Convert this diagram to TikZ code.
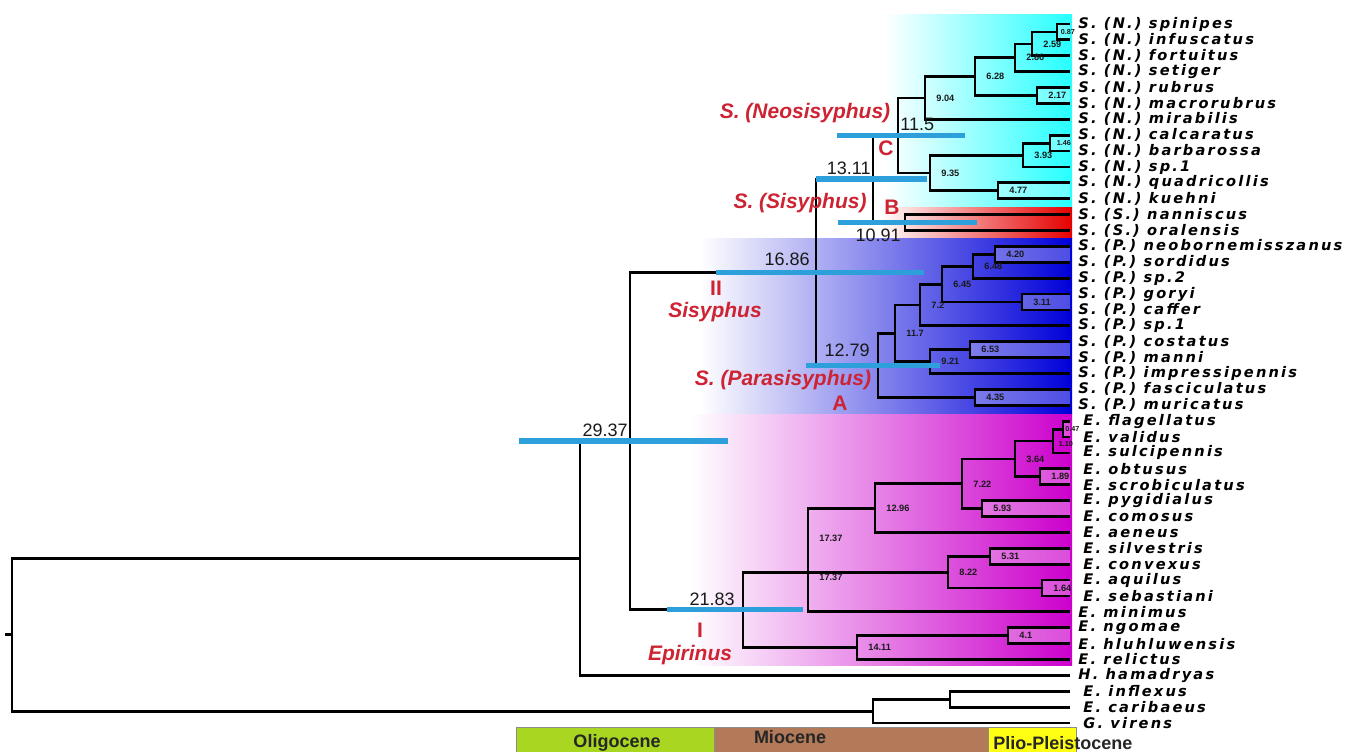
\documentclass[tikz,border=0pt]{standalone}
\usepackage{fontspec}
\setmainfont{Liberation Sans}
\newfontfamily\taxfont{DejaVu Sans}[LetterSpace=15]
\usetikzlibrary{positioning}
\definecolor{hpdblue}{RGB}{45,160,220}
\definecolor{cladered}{RGB}{205,35,50}
\definecolor{oligogreen}{RGB}{168,214,33}
\definecolor{miobrown}{RGB}{178,122,89}
\definecolor{plioyellow}{RGB}{255,255,20}
\begin{document}
\begin{tikzpicture}[x=0.5pt, y=-0.5pt,
    branch/.style={line width=1.4pt, black},
    hpd/.style={line width=2.6pt, hpdblue},
    cherry/.style={fill=white, opacity=0.3},
    taxon/.style={anchor=west, inner sep=0pt, font=\taxfont\bfseries\itshape\fontsize{7.3}{8}\selectfont},
    age/.style={right=5pt, inner sep=0.5pt, font=\bfseries\fontsize{4.6}{5}\selectfont, black!90},
    tinyage/.style={right=1.5pt, inner sep=0.2pt, font=\bfseries\fontsize{3.6}{4}\selectfont, black!90},
    bigage/.style={inner sep=1pt, font=\fontsize{9}{10}\selectfont, black!90},
    clade/.style={text=cladered, font=\bfseries\itshape\fontsize{10.5}{12}\selectfont},
    cladeid/.style={text=cladered, font=\bfseries\fontsize{10.5}{12}\selectfont},
    epoch/.style={draw=black!45, line width=0.4pt},
    epochtext/.style={font=\bfseries\fontsize{9}{10}\selectfont, black!85}]
	\useasboundingbox (0,0) rectangle (1363,751);
	
	% clade colour fields
	\fill[left color=white, middle color=cyan!45!white, right color=cyan!85!white] (885,14) rectangle (1072,207);
	\fill[left color=white, middle color=red!40!white, right color=red!90!black] (880,207) rectangle (1072,238);
	\fill[left color=white, middle color=blue!16!white, right color=blue!85!black] (700,238) rectangle (1072,414);
	\fill[left color=white, middle color=magenta!55!white, right color=magenta!80!black] (690,414) rectangle (1072,665);
	
	% tips and taxon names
	\foreach \nm [count=\i from 0] in {S. (N.) spinipes, S. (N.) infuscatus, S. (N.) fortuitus, S. (N.) setiger,
	    S. (N.) rubrus, S. (N.) macrorubrus, S. (N.) mirabilis, S. (N.) calcaratus, S. (N.) barbarossa,
	    S. (N.) sp.1, S. (N.) quadricollis, S. (N.) kuehni, S. (S.) nanniscus, S. (S.) oralensis,
	    S. (P.) neobornemisszanus, S. (P.) sordidus, S. (P.) sp.2, S. (P.) goryi, S. (P.) caffer,
	    S. (P.) sp.1, S. (P.) costatus, S. (P.) manni, S. (P.) impressipennis, S. (P.) fasciculatus,
	    S. (P.) muricatus, E. flagellatus, E. validus, E. sulcipennis, E. obtusus, E. scrobiculatus,
	    E. pygidialus, E. comosus, E. aeneus, E. silvestris, E. convexus, E. aquilus, E. sebastiani,
	    E. minimus, E. ngomae, E. hluhluwensis, E. relictus, H. hamadryas, E. inflexus, E. caribaeus,
	    G. virens}{
		\pgfmathsetmacro\lx{((\i>24 && \i<37) || \i>41) ? 1083 : 1078}
		\coordinate (tip\i) at (1070,{24+15.886*\i});
		\node[taxon] (lab\i) at (\lx,{24+15.886*\i}) {\nm};
	}
	
	% internal nodes: Neosisyphus
	\coordinate (nSpInf) at (1057,32.0);
	\coordinate (nFort) at (1032,43.9);
	\coordinate (nSet) at (1015,57.8);
	\coordinate (nRub) at (1037,95.5);
	\coordinate (n628) at (975,76.6);
	\coordinate (n904) at (925,98.0);
	\coordinate (nCalc) at (1050,143.1);
	\coordinate (nSp1) at (1023,155.1);
	\coordinate (nQuad) at (998,190.8);
	\coordinate (n935) at (930,172.9);
	\coordinate (n115) at (898,135.4);
	\coordinate (n1091) at (905,222.6);
	\coordinate (n1311) at (873,179.0);
	% Parasisyphus
	\coordinate (n420) at (995,254.3);
	\coordinate (n648) at (973,266.3);
	\coordinate (nGor) at (1022,302.0);
	\coordinate (n645) at (942,284.2);
	\coordinate (n12) at (920,305.0);
	\coordinate (n653) at (970,349.6);
	\coordinate (n921) at (930,361.6);
	\coordinate (n117) at (895,333.3);
	\coordinate (n435) at (975,397.3);
	\coordinate (n1279) at (878,365.3);
	\coordinate (n1686) at (816,272.2);
	% Epirinus
	\coordinate (nFlag) at (1063,429.1);
	\coordinate (nSulc) at (1053,441.0);
	\coordinate (n189) at (1040,476.8);
	\coordinate (n364) at (1015,458.9);
	\coordinate (n593) at (982,508.6);
	\coordinate (n722) at (962,483.8);
	\coordinate (n1296) at (875,508.1);
	\coordinate (n531) at (990,556.2);
	\coordinate (n164) at (1042,588.0);
	\coordinate (n822) at (948,572.1);
	\coordinate (n1737) at (808,572.1);
	\coordinate (n41) at (1008,635.6);
	\coordinate (n1411) at (857,647.5);
	\coordinate (n2183) at (743,609.8);
	% deep nodes
	\coordinate (n2937) at (630,441.0);
	\coordinate (nHam) at (580,558.2);
	\coordinate (nInfl) at (950,699.2);
	\coordinate (nOut) at (873,711.1);
	\coordinate (nRoot) at (12,634.6);
	\coordinate (stem) at (5,634.6);
	
	% lighter cherry boxes
	\foreach \p/\a/\b in {nSpInf/tip0/tip1, nRub/tip4/tip5, nCalc/tip7/tip8, nQuad/tip10/tip11,
	    n420/tip14/tip15, nGor/tip17/tip18, n653/tip20/tip21, n435/tip23/tip24, nFlag/tip25/tip26,
	    n189/tip28/tip29, n593/tip30/tip31, n531/tip33/tip34, n164/tip35/tip36, n41/tip38/tip39}
		\fill[cherry] (\p |- \a) rectangle (\b);
	
	% branches
	\foreach \p/\c in {nSpInf/tip0, nSpInf/tip1, nFort/nSpInf, nFort/tip2, nSet/nFort, nSet/tip3,
	    nRub/tip4, nRub/tip5, n628/nSet, n628/nRub, n904/n628, n904/tip6, nCalc/tip7, nCalc/tip8,
	    nSp1/nCalc, nSp1/tip9, nQuad/tip10, nQuad/tip11, n935/nSp1, n935/nQuad, n115/n904, n115/n935,
	    n1091/tip12, n1091/tip13, n1311/n115, n1311/n1091}
		\draw[branch] (\p) |- (\c);
	\foreach \p/\c in {n420/tip14, n420/tip15, n648/n420, n648/tip16, nGor/tip17, nGor/tip18,
	    n645/n648, n645/nGor, n12/n645, n12/tip19, n653/tip20, n653/tip21, n921/n653, n921/tip22,
	    n117/n12, n117/n921, n435/tip23, n435/tip24, n1279/n117, n1279/n435, n1686/n1311, n1686/n1279}
		\draw[branch] (\p) |- (\c);
	\foreach \p/\c in {nFlag/tip25, nFlag/tip26, nSulc/nFlag, nSulc/tip27, n189/tip28, n189/tip29,
	    n364/nSulc, n364/n189, n593/tip30, n593/tip31, n722/n364, n722/n593, n1296/n722, n1296/tip32,
	    n531/tip33, n531/tip34, n164/tip35, n164/tip36, n822/n531, n822/n164, n1737/n1296, n1737/n822,
	    n1737/tip37, n41/tip38, n41/tip39, n1411/n41, n1411/tip40, n2183/n1737, n2183/n1411}
		\draw[branch] (\p) |- (\c);
	\foreach \p/\c in {n2937/n1686, n2937/n2183, nHam/n2937, nHam/tip41, nInfl/tip42, nInfl/tip43,
	    nOut/nInfl, nOut/tip44, nRoot/nHam, nRoot/nOut}
		\draw[branch] (\p) |- (\c);
	\draw[branch] (stem) -- (nRoot);
	
	% node ages
	\node[tinyage] (aSpInf) at (nSpInf) {0.87};
	\node[age] (aFort) at (nFort) {2.59};
	\node[age] (aSet) at (nSet) {2.86};
	\node[age] (aRub) at (nRub) {2.17};
	\node[age] (a628) at (n628) {6.28};
	\node[age] (a904) at (n904) {9.04};
	\node[tinyage, right=3pt] (aCalc) at (nCalc) {1.46};
	\node[age] (aSp1) at (nSp1) {3.93};
	\node[age] (a935) at (n935) {9.35};
	\node[age] (aQuad) at (nQuad) {4.77};
	\node[age] (a420) at (n420) {4.20};
	\node[age] (a648) at (n648) {6.48};
	\node[age] (aGor) at (nGor) {3.11};
	\node[age] (a645) at (n645) {6.45};
	\node[age] (a12) at (n12) {7.2};
	\node[age] (a117) at (n117) {11.7};
	\node[age] (a653) at (n653) {6.53};
	\node[age] (a921) at (n921) {9.21};
	\node[age] (a435) at (n435) {4.35};
	\node[tinyage, right=0.8pt] (aFlag) at (nFlag) {0.47};
	\node[tinyage, right=2.5pt, yshift=-1.5pt] (aSulc) at (nSulc) {1.10};
	\node[age] (a364) at (n364) {3.64};
	\node[age] (a189) at (n189) {1.89};
	\node[age] (a722) at (n722) {7.22};
	\node[age] (a1296) at (n1296) {12.96};
	\node[age] (a593) at (n593) {5.93};
	\node[age, yshift=17pt] (a1737) at (n1737) {17.37};
	\node[age, yshift=-2.5pt] (a1737b) at (n1737) {17.37};
	\node[age] (a531) at (n531) {5.31};
	\node[age] (a822) at (n822) {8.22};
	\node[age] (a164) at (n164) {1.64};
	\node[age] (a41) at (n41) {4.1};
	\node[age] (a1411) at (n1411) {14.11};
	
	% 95% HPD bars
	\draw[hpd] (n2937 -| 519,0) -- (n2937 -| 728,0);
	\draw[hpd] (n1686 -| 716,0) -- (n1686 -| 924,0);
	\draw[hpd] (n1311 -| 816,0) -- (n1311 -| 927,0);
	\draw[hpd] (n115 -| 837,0) -- (n115 -| 965,0);
	\draw[hpd] (n1091 -| 838,0) -- (n1091 -| 977,0);
	\draw[hpd] (n1279 -| 806,0) -- (n1279 -| 940,0);
	\draw[hpd] (n2183 -| 667,0) -- (n2183 -| 803,0);
	
	% crown ages
	\node[bigage, anchor=south east, yshift=1pt] (b2937) at (n2937) {29.37};
	\node[bigage, anchor=south east, xshift=-2pt, yshift=2pt] (b1686) at (n1686) {16.86};
	\node[bigage, anchor=south east, yshift=1pt] (b1311) at (n1311) {13.11};
	\node[bigage, anchor=south west, yshift=1pt] (b115) at (n115) {11.5};
	\node[bigage, anchor=north east, xshift=-1pt, yshift=-2pt] (b1091) at (n1091) {10.91};
	\node[bigage, anchor=south east, xshift=-3pt, yshift=3pt] (b1279) at (n1279) {12.79};
	\node[bigage, anchor=south east, xshift=-3pt, yshift=1pt] (b2183) at (n2183) {21.83};
	
	% clade names
	\node[clade] (cNeo) at (805,113) {S. (Neosisyphus)};
	\node[cladeid] (cC) at (886,148) {C};
	\node[clade] (cSis) at (800,203) {S. (Sisyphus)};
	\node[cladeid] (cB) at (892,207) {B};
	\node[cladeid] (cII) at (716,288) {II};
	\node[clade] (cSisyphus) at (715,312) {Sisyphus};
	\node[clade] (cPara) at (783,380) {S. (Parasisyphus)};
	\node[cladeid] (cA) at (840,403) {A};
	\node[cladeid] (cI) at (700,630) {I};
	\node[clade] (cEpi) at (690,655) {Epirinus};
	
	% time scale
	\fill[oligogreen, epoch] (516,727) rectangle (714,753);
	\fill[miobrown, epoch] (714,727) rectangle (988,753);
	\fill[plioyellow, epoch] (988,727) rectangle (1076,753);
	\node[epochtext] (tOligo) at (617,743) {Oligocene};
	\node[epochtext] (tMio) at (790,737) {Miocene};
	\node[epochtext, anchor=west, inner sep=0pt] (tPlio) at (993,743) {Plio-Pleistocene};
\end{tikzpicture}
\end{document}
